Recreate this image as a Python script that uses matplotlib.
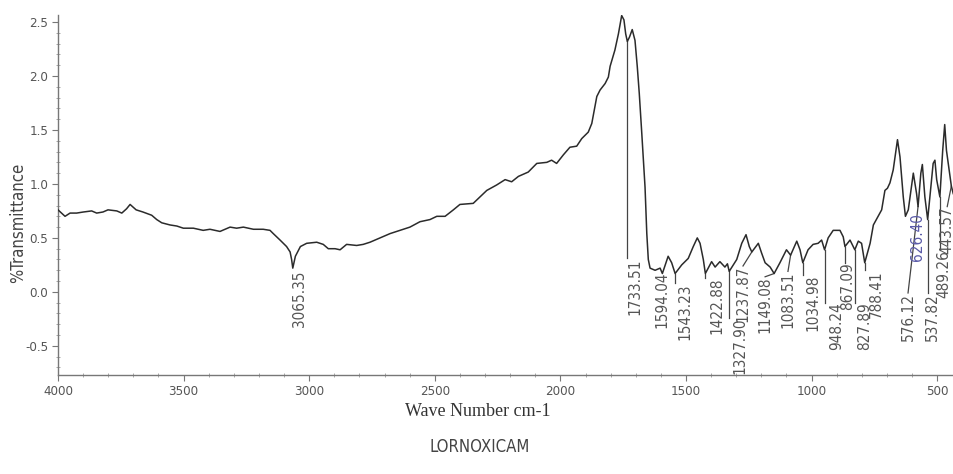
import matplotlib
matplotlib.use("Agg")
import matplotlib.pyplot as plt
import numpy as np
from matplotlib.ticker import MultipleLocator
from matplotlib import font_manager

plt.rcParams["axes.unicode_minus"] = False

# FTIR spectrum of lornoxicam (wavenumber in cm-1, descending)
wavenumber = [
    4000, 3972, 3952, 3926, 3899, 3866, 3846, 3821, 3801, 3766, 3746, 3727,
    3713, 3689, 3662, 3627, 3607, 3587, 3554, 3527, 3501, 3461, 3422, 3395,
    3355, 3315, 3289, 3262, 3222, 3183, 3156, 3143, 3116, 3090, 3076, 3070,
    3065.35, 3055, 3035, 3010, 2970, 2944, 2924, 2897, 2877, 2851, 2811, 2785,
    2758, 2718, 2678, 2638, 2599, 2559, 2519, 2492, 2459, 2426, 2400, 2347,
    2320, 2293, 2254, 2220, 2194, 2167, 2128, 2094, 2054, 2035, 2015, 1988,
    1962, 1935, 1915, 1889, 1875, 1855, 1842, 1822, 1809, 1802, 1783, 1769,
    1756, 1747, 1740, 1733.51, 1725, 1714, 1703, 1694, 1686, 1676, 1663, 1656,
    1650, 1643, 1623, 1603, 1594.04, 1571, 1557, 1543.23, 1517, 1491, 1471,
    1455, 1444, 1431, 1422.88, 1398, 1384, 1365, 1345, 1335, 1327.90, 1298,
    1278, 1261, 1248, 1237.87, 1212, 1199, 1185, 1165, 1149.08, 1126, 1100,
    1083.51, 1059, 1046, 1034.98, 1014, 994, 974, 960, 948.24, 934, 914, 887,
    874, 867.09, 847, 827.89, 814, 801, 788.41, 767, 754, 735, 721, 708, 698,
    688, 675, 666, 658, 648, 635, 626.40, 615, 595, 582, 576.12, 565, 559,
    549, 537.82, 529, 516, 509, 502, 489.26, 478, 470, 463, 443.57, 436,
]
transmittance = [
    0.76, 0.70, 0.73, 0.73, 0.74, 0.75, 0.73, 0.74, 0.76, 0.75, 0.73, 0.77,
    0.81, 0.76, 0.74, 0.71, 0.67, 0.64, 0.62, 0.61, 0.59, 0.59, 0.57, 0.58,
    0.56, 0.60, 0.59, 0.60, 0.58, 0.58, 0.57, 0.54, 0.48, 0.42, 0.37, 0.30,
    0.22, 0.33, 0.42, 0.45, 0.46, 0.44, 0.40, 0.40, 0.39, 0.44, 0.43, 0.44,
    0.46, 0.50, 0.54, 0.57, 0.60, 0.65, 0.67, 0.70, 0.70, 0.76, 0.81, 0.82,
    0.88, 0.94, 0.99, 1.04, 1.02, 1.07, 1.11, 1.19, 1.20, 1.22, 1.19, 1.27,
    1.34, 1.35, 1.42, 1.48, 1.56, 1.81, 1.87, 1.93, 1.99, 2.09, 2.24, 2.39,
    2.56, 2.52, 2.39, 2.32, 2.36, 2.43, 2.33, 2.09, 1.84, 1.47, 0.97, 0.54,
    0.30, 0.22, 0.20, 0.22, 0.17, 0.33, 0.27, 0.17, 0.25, 0.31, 0.42,
    0.50, 0.45, 0.30, 0.17, 0.28, 0.23, 0.28, 0.23, 0.26, 0.19, 0.30,
    0.45, 0.53, 0.42, 0.37, 0.45, 0.36, 0.27, 0.23, 0.17, 0.27, 0.39,
    0.34, 0.47, 0.39, 0.27, 0.39, 0.44, 0.45, 0.48, 0.39, 0.50, 0.57, 0.57,
    0.51, 0.42, 0.48, 0.39, 0.47, 0.45, 0.27, 0.45, 0.62, 0.70, 0.76, 0.94, 0.96,
    1.01, 1.13, 1.28, 1.41, 1.25, 0.88, 0.70, 0.76, 1.10, 0.91, 0.79, 1.10, 1.18,
    0.88, 0.67, 0.88, 1.19, 1.22, 1.04, 0.88, 1.31, 1.55, 1.31, 0.98, 0.91,
]

# Picked peaks
peak_wavenumbers = [
    3065.35, 1733.51, 1594.04, 1543.23, 1422.88, 1327.90, 1237.87, 1149.08,
    1083.51, 1034.98, 948.24, 867.09, 827.89, 788.41, 626.40, 576.12, 537.82,
    489.26, 443.57,
]

x_ticks = [4000, 3500, 3000, 2500, 2000, 1500, 1000, 500]
y_ticks = [-0.5, 0.0, 0.5, 1.0, 1.5, 2.0, 2.5]

# Layout of the peak labels: text centre (cm-1) and top edge (axis units)
label_x = [3037, 1703, 1596, 1504, 1377, 1285, 1273, 1185, 1094, 994, 899,
           855, 790, 742, 580, 616, 517, 474, 460]
label_top = [0.20, 0.31, 0.19, 0.08, 0.13, -0.24, 0.24, 0.14, 0.19, 0.16,
             -0.10, 0.27, -0.10, 0.20, 0.73, -0.01, -0.01, 0.39, 0.79]
label_color = ["#555555"] * 14 + ["#5a5aa8"] + ["#555555"] * 4


def narrow_font(size):
    return font_manager.FontProperties(family="DejaVu Sans",
                                       stretch="condensed", size=size)


tick_grey = "#555555"

fig = plt.figure(figsize=(9.54, 4.74), dpi=100)
ax = fig.add_axes([58 / 954, 99 / 474, (953 - 58) / 954, (375 - 15) / 474])

ax.plot(wavenumber, transmittance, color="#2b2b2b", lw=1.1, zorder=3)
ax.set_xlim(4000, 437)
ax.set_ylim(-0.77, 2.565)

# Peak annotations: leader from the curve down to a vertical label
wn_asc = np.array(wavenumber)[::-1]
tr_asc = np.array(transmittance)[::-1]
for wn, lx, top, col in zip(peak_wavenumbers, label_x, label_top, label_color):
    y_curve = float(np.interp(wn, wn_asc, tr_asc))
    end_x = wn if lx <= wn else lx
    if y_curve - top > 0.02:
        ax.plot([wn, end_x], [y_curve, top], color="#444444", lw=0.9, zorder=2)
    ax.text(lx, top, f"{wn:.2f}", rotation=90, ha="center", va="top",
            fontproperties=narrow_font(11), color=col, zorder=4)

for side in ("top", "right"):
    ax.spines[side].set_visible(False)
for side in ("left", "bottom"):
    ax.spines[side].set_color("#777777")
    ax.spines[side].set_linewidth(1.0)

ax.set_xticks(x_ticks)
ax.set_xticklabels([str(t) for t in x_ticks])
ax.set_yticks(y_ticks)
ax.set_yticklabels([f"{t:.1f}" for t in y_ticks])
ax.xaxis.set_minor_locator(MultipleLocator(100))
ax.yaxis.set_minor_locator(MultipleLocator(0.1))
ax.tick_params(which="major", direction="out", length=4, width=0.8,
               color="#777777", labelcolor=tick_grey, pad=3)
ax.tick_params(which="minor", direction="inout", length=3, width=0.6,
               color="#999999")
for lab in ax.get_xticklabels() + ax.get_yticklabels():
    lab.set_fontproperties(narrow_font(9.5))

fig.text(18 / 954, 1 - 223 / 474, "%Transmittance", rotation=90,
         ha="center", va="center", fontproperties=narrow_font(12),
         color="#444444")
fig.text(478 / 954, 1 - 412 / 474, "Wave Number cm-1", ha="center",
         va="center", fontsize=13, family=["Liberation Serif", "DejaVu Serif"],
         color="#333333")
fig.text(480 / 954, 1 - 447 / 474, "LORNOXICAM", ha="center", va="center",
         fontproperties=narrow_font(12), color="#444444")

fig.savefig("out.png", dpi=100, facecolor="white")
